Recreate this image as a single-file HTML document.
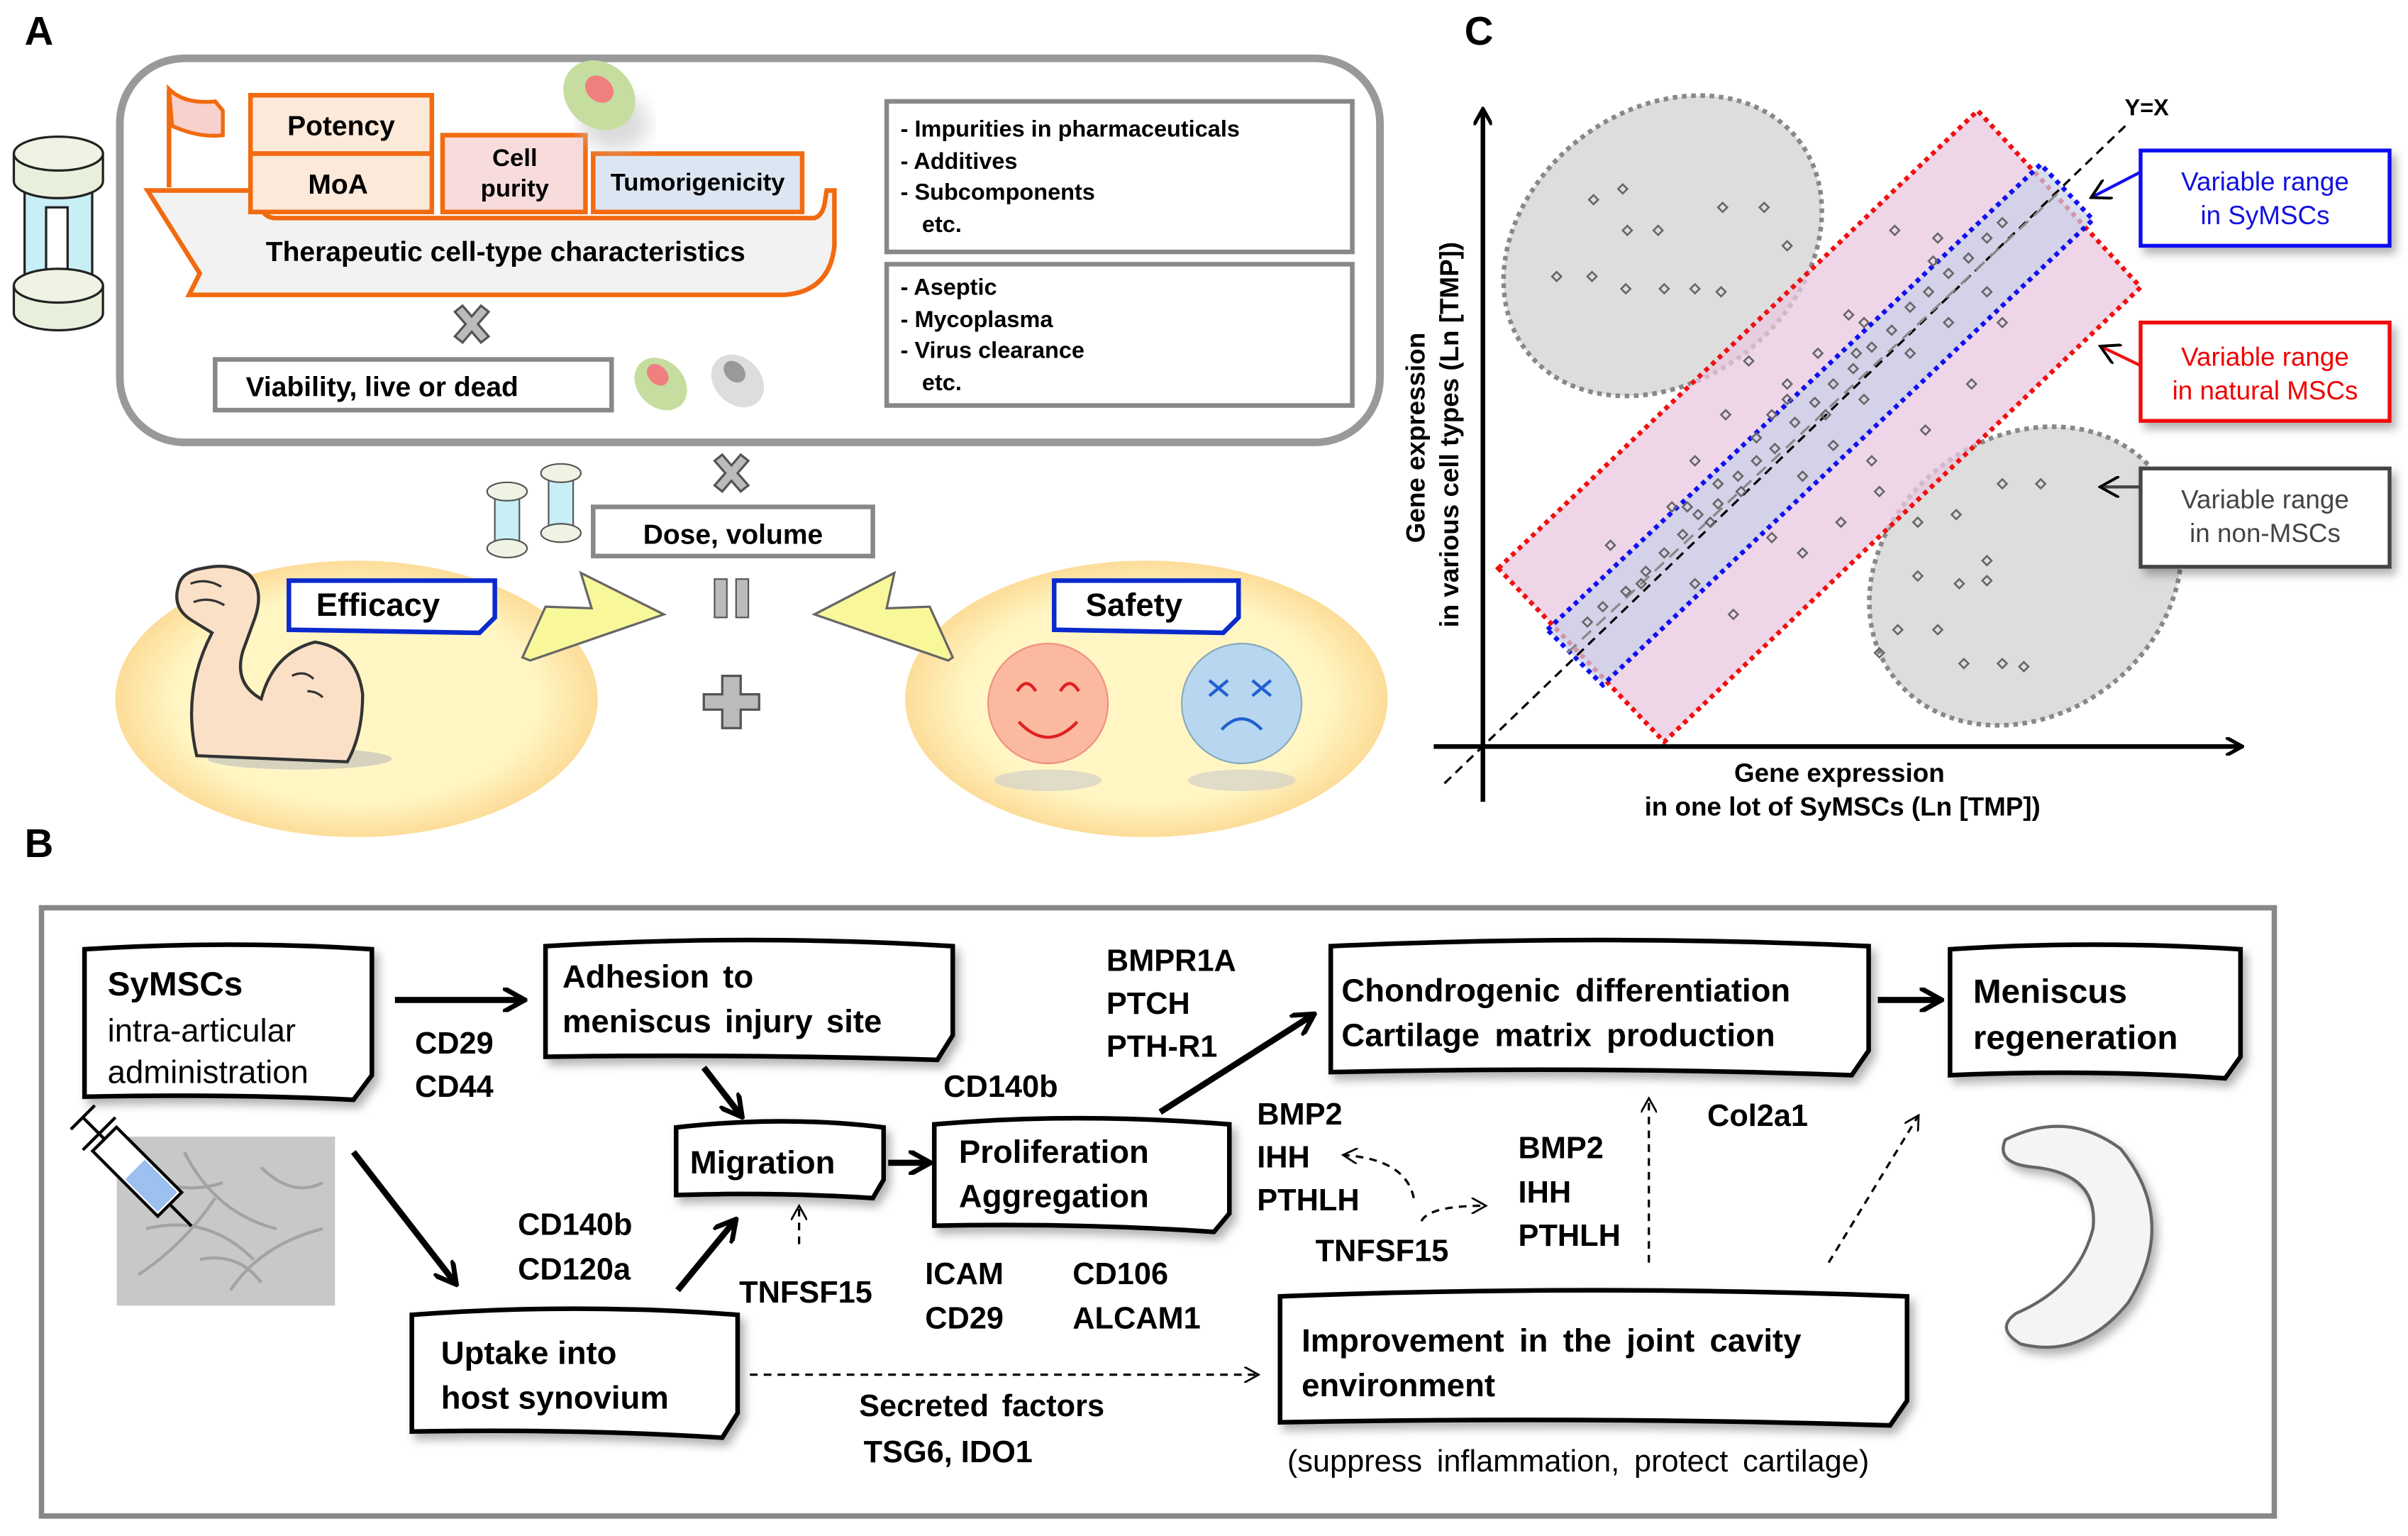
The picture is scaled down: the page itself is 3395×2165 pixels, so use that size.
<!DOCTYPE html>
<html><head><meta charset="utf-8">
<style>
html,body{margin:0;padding:0;background:#fff;}
svg{display:block;}
text{font-family:"Liberation Sans",Arial,sans-serif;}
</style></head>
<body>
<svg width="3395" height="2165" viewBox="0 0 1567 1000" preserveAspectRatio="none" xmlns="http://www.w3.org/2000/svg">
<defs>
<marker id="ab" viewBox="0 0 10 10" refX="8" refY="5" markerWidth="4" markerHeight="4" orient="auto"><path d="M0,0 L9,5 L0,10" fill="none" stroke="#000" stroke-width="2"/></marker>
<marker id="as" viewBox="0 0 10 10" refX="8" refY="5" markerWidth="7" markerHeight="7" orient="auto"><path d="M0,0 L9,5 L0,10" fill="none" stroke="#000" stroke-width="1.2"/></marker>
<marker id="ax" viewBox="0 0 10 10" refX="8" refY="5" markerWidth="7" markerHeight="7" orient="auto"><path d="M0,0 L9,5 L0,10" fill="none" stroke="#000" stroke-width="1.3"/></marker>
<filter id="sh" x="-10%" y="-10%" width="130%" height="140%"><feDropShadow dx="3" dy="4" stdDeviation="3" flood-color="#000" flood-opacity="0.3"/></filter>
<filter id="bl"><feGaussianBlur stdDeviation="6"/></filter>
<radialGradient id="yel" cx="50%" cy="50%" r="50%"><stop offset="75%" stop-color="#fff6c4"/><stop offset="100%" stop-color="#fddc98"/></radialGradient>
</defs>

<!-- ===== Panel A ===== -->
<text x="16" y="29" font-size="26" font-weight="bold">A</text>
<rect x="78" y="38" width="820" height="250" rx="42" fill="#fff" stroke="#999" stroke-width="5"/>
<!-- vial left -->
<g stroke="#222" stroke-width="1.5">
<rect x="16" y="125" width="44" height="70" fill="#c8eef6"/>
<rect x="30" y="135" width="14" height="50" fill="#fff"/>
<path d="M9,100 v18 a29,11 0 0 0 58,0 v-18" fill="#e8f0dc"/>
<ellipse cx="38" cy="100" rx="29" ry="11" fill="#eef3e4"/>
<path d="M9,186 v18 a29,11 0 0 0 58,0 v-18" fill="#e8f0dc"/>
<ellipse cx="38" cy="186" rx="29" ry="11" fill="#eef3e4"/>
</g>
<!-- ship -->
<path d="M110,58 L110,122" stroke="#f26a10" stroke-width="3"/>
<path d="M110,58 Q120,68 140,66 L145,72 L145,88 Q130,90 112,82 Z" fill="#f8d0cc" stroke="#f26a10" stroke-width="2.5"/>
<path d="M96,124 L170,124 L170,135 Q172,142 180,142 L530,142 Q536,140 537,130 L538,124 L543,124 L543,160 Q540,190 510,192 L123,192 L130,178 Z" fill="#f2f2f2" stroke="#f26a10" stroke-width="3"/>
<rect x="163" y="62" width="118" height="38" fill="#fde9d9" stroke="#f26a10" stroke-width="3"/>
<rect x="163" y="100" width="118" height="38" fill="#fde9d9" stroke="#f26a10" stroke-width="3"/>
<rect x="288" y="88" width="93" height="50" fill="#f8dcdc" stroke="#f26a10" stroke-width="3"/>
<rect x="386" y="100" width="136" height="38" fill="#dce6f2" stroke="#f26a10" stroke-width="3"/>
<text x="222" y="88" font-size="18" font-weight="bold" text-anchor="middle">Potency</text>
<text x="220" y="126" font-size="18" font-weight="bold" text-anchor="middle">MoA</text>
<text x="335" y="108" font-size="16" font-weight="bold" text-anchor="middle">Cell</text>
<text x="335" y="128" font-size="16" font-weight="bold" text-anchor="middle">purity</text>
<text x="454" y="124" font-size="16" font-weight="bold" text-anchor="middle">Tumorigenicity</text>
<text x="329" y="170" font-size="18" font-weight="bold" text-anchor="middle">Therapeutic cell-type characteristics</text>
<ellipse cx="400" cy="80" rx="22" ry="18" fill="#ccc" filter="url(#bl)" opacity="0.7"/>
<ellipse cx="390" cy="62" rx="25" ry="21" fill="#c5dea0" transform="rotate(40 390 62)"/>
<ellipse cx="390" cy="58" rx="10" ry="8" fill="#f08080" transform="rotate(40 390 58)"/>
<g fill="#bbb" stroke="#555" stroke-width="1.5">
<path d="M296,203 l5,-4 l6,7 l6,-7 l5,4 l-7,8 l7,8 l-5,4 l-6,-7 l-6,7 l-5,-4 l7,-8 Z"/>
<path d="M465,300 l5,-4 l6,7 l6,-7 l5,4 l-7,8 l7,8 l-5,4 l-6,-7 l-6,7 l-5,-4 l7,-8 Z"/>
</g>
<rect x="140" y="234" width="258" height="33" fill="#fff" stroke="#888" stroke-width="3"/>
<text x="160" y="258" font-size="18" font-weight="bold">Viability, live or dead</text>
<ellipse cx="430" cy="250" rx="19" ry="15" fill="#c5dea0" transform="rotate(45 430 250)"/>
<ellipse cx="428" cy="244" rx="8" ry="6" fill="#f08080" transform="rotate(45 428 244)"/>
<ellipse cx="480" cy="248" rx="19" ry="15" fill="#ddd" transform="rotate(45 480 248)"/>
<ellipse cx="478" cy="242" rx="8" ry="6" fill="#999" transform="rotate(45 478 242)"/>
<rect x="577" y="66" width="303" height="98" fill="#fff" stroke="#888" stroke-width="3"/>
<text font-size="15" font-weight="bold"><tspan x="586" y="89">- Impurities in  pharmaceuticals</tspan><tspan x="586" y="110">- Additives</tspan><tspan x="586" y="130">- Subcomponents</tspan><tspan x="600" y="151">etc.</tspan></text>
<rect x="577" y="172" width="303" height="92" fill="#fff" stroke="#888" stroke-width="3"/>
<text font-size="15" font-weight="bold"><tspan x="586" y="192">- Aseptic</tspan><tspan x="586" y="213">- Mycoplasma</tspan><tspan x="586" y="233">- Virus clearance</tspan><tspan x="600" y="254">etc.</tspan></text>
<g stroke="#555" stroke-width="1">
<rect x="322" y="322" width="16" height="34" fill="#c8eef6"/><ellipse cx="330" cy="320" rx="13" ry="6" fill="#eef3e4"/><ellipse cx="330" cy="357" rx="13" ry="6" fill="#eef3e4"/>
<rect x="357" y="310" width="16" height="36" fill="#c8eef6"/><ellipse cx="365" cy="308" rx="13" ry="6" fill="#eef3e4"/><ellipse cx="365" cy="347" rx="13" ry="6" fill="#eef3e4"/>
</g>
<rect x="386" y="330" width="182" height="32" fill="#fff" stroke="#888" stroke-width="3"/>
<text x="477" y="354" font-size="18" font-weight="bold" text-anchor="middle">Dose, volume</text>
<ellipse cx="232" cy="455" rx="157" ry="90" fill="url(#yel)"/>
<ellipse cx="746" cy="455" rx="157" ry="90" fill="url(#yel)"/>
<path d="M340,428 L355,395 L385,396 L378,373 L432,400 L345,430 Z" fill="#f8f89a" stroke="#666" stroke-width="1.5"/>
<path d="M620,428 L605,395 L577,396 L582,373 L530,400 L617,430 Z" fill="#f8f89a" stroke="#666" stroke-width="1.5"/>
<rect x="465" y="377" width="8" height="25" fill="#bbb" stroke="#555"/><rect x="479" y="377" width="8" height="25" fill="#bbb" stroke="#555"/>
<path d="M470,440 h12 v12 h12 v10 h-12 v12 h-12 v-12 h-12 v-10 h12 Z" fill="#bbb" stroke="#555" stroke-width="1.5"/>
<path d="M188,378 L322,378 L322,402 L312,412 L188,410 Z" fill="#fff" stroke="#0a2acc" stroke-width="3"/>
<text x="246" y="401" font-size="21" font-weight="bold" text-anchor="middle">Efficacy</text>
<path d="M686,378 L806,378 L806,402 L796,412 L686,410 Z" fill="#fff" stroke="#0a2acc" stroke-width="3"/>
<text x="738" y="401" font-size="21" font-weight="bold" text-anchor="middle">Safety</text>
<!-- arm -->
<ellipse cx="195" cy="494" rx="60" ry="7" fill="#bbb" opacity="0.6"/>
<path d="M128,492 Q118,450 138,412 L125,404 Q112,396 116,382 Q118,372 132,370 Q150,366 162,374 Q172,384 166,402 L158,424 Q152,445 170,455 Q178,425 205,418 Q232,422 236,452 Q236,478 226,496 Z" fill="#fbe0c8" stroke="#333" stroke-width="2"/>
<path d="M124,380 q10,-4 20,2 M126,392 q10,-4 20,2 M190,440 q8,-4 14,2 M200,450 q6,0 10,4" fill="none" stroke="#333" stroke-width="1.5"/>
<ellipse cx="682" cy="508" rx="35" ry="7" fill="#ccc" opacity="0.6"/>
<ellipse cx="808" cy="508" rx="35" ry="7" fill="#ccc" opacity="0.6"/>
<circle cx="682" cy="458" r="39" fill="#fbb9a0" stroke="#f09080"/>
<path d="M662,450 q6,-10 12,0 M690,450 q6,-10 12,0 M663,470 q19,20 38,0" fill="none" stroke="#e02020" stroke-width="2"/>
<circle cx="808" cy="458" r="39" fill="#b8d6f0" stroke="#8ab"/>
<path d="M787,443 l12,10 M799,443 l-12,10 M815,443 l12,10 M827,443 l-12,10 M795,475 q13,-14 26,0" fill="none" stroke="#2060d0" stroke-width="2"/>

<!-- ===== Panel C ===== -->
<text x="953" y="29" font-size="26" font-weight="bold">C</text>
<ellipse cx="1082" cy="160" rx="112" ry="88" fill="#ddd" stroke="#888" stroke-width="3" stroke-dasharray="3,3" transform="rotate(-38 1082 160)"/>
<ellipse cx="1318" cy="375" rx="108" ry="90" fill="#ddd" stroke="#888" stroke-width="3" stroke-dasharray="3,3" transform="rotate(-38 1318 375)"/>
<polygon points="975,370 1287,72 1393,187 1083,483" fill="#e8c8e0" fill-opacity="0.75" stroke="#f01010" stroke-width="3" stroke-dasharray="3,3"/>
<polygon points="1007,410 1328,107 1362,143 1043,446" fill="#c8d0e8" fill-opacity="0.7" stroke="#1010f0" stroke-width="3" stroke-dasharray="3,3"/>
<line x1="940" y1="510" x2="1383" y2="82" stroke="#000" stroke-width="1.5" stroke-dasharray="6,4"/>
<line x1="1020" y1="425" x2="1340" y2="125" stroke="#888" stroke-width="1.5" stroke-dasharray="8,5"/>
<g fill="none" stroke="#666" stroke-width="1.2">
<path d="M1034,130 l3,-3 l3,3 l-3,3 Z M1056,150 l3,-3 l3,3 l-3,3 Z M1076,150 l3,-3 l3,3 l-3,3 Z M1053,123 l3,-3 l3,3 l-3,3 Z M1010,180 l3,-3 l3,3 l-3,3 Z M1033,180 l3,-3 l3,3 l-3,3 Z M1055,188 l3,-3 l3,3 l-3,3 Z M1080,188 l3,-3 l3,3 l-3,3 Z M1100,188 l3,-3 l3,3 l-3,3 Z M1117,190 l3,-3 l3,3 l-3,3 Z M1145,135 l3,-3 l3,3 l-3,3 Z M1160,160 l3,-3 l3,3 l-3,3 Z M1118,135 l3,-3 l3,3 l-3,3 Z"/>
<path d="M1300,315 l3,-3 l3,3 l-3,3 Z M1325,315 l3,-3 l3,3 l-3,3 Z M1245,340 l3,-3 l3,3 l-3,3 Z M1270,335 l3,-3 l3,3 l-3,3 Z M1290,365 l3,-3 l3,3 l-3,3 Z M1272,380 l3,-3 l3,3 l-3,3 Z M1245,375 l3,-3 l3,3 l-3,3 Z M1232,410 l3,-3 l3,3 l-3,3 Z M1258,410 l3,-3 l3,3 l-3,3 Z M1290,378 l3,-3 l3,3 l-3,3 Z M1275,432 l3,-3 l3,3 l-3,3 Z M1300,432 l3,-3 l3,3 l-3,3 Z M1314,434 l3,-3 l3,3 l-3,3 Z M1220,425 l3,-3 l3,3 l-3,3 Z"/>
<path d="M1045,355 l3,-3 l3,3 l-3,3 Z M1065,380 l3,-3 l3,3 l-3,3 Z M1085,330 l3,-3 l3,3 l-3,3 Z M1100,300 l3,-3 l3,3 l-3,3 Z M1110,340 l3,-3 l3,3 l-3,3 Z M1120,270 l3,-3 l3,3 l-3,3 Z M1130,320 l3,-3 l3,3 l-3,3 Z M1140,285 l3,-3 l3,3 l-3,3 Z M1150,350 l3,-3 l3,3 l-3,3 Z M1160,250 l3,-3 l3,3 l-3,3 Z M1170,310 l3,-3 l3,3 l-3,3 Z M1180,230 l3,-3 l3,3 l-3,3 Z M1190,290 l3,-3 l3,3 l-3,3 Z M1200,205 l3,-3 l3,3 l-3,3 Z M1210,260 l3,-3 l3,3 l-3,3 Z M1220,320 l3,-3 l3,3 l-3,3 Z M1230,150 l3,-3 l3,3 l-3,3 Z M1240,230 l3,-3 l3,3 l-3,3 Z M1250,280 l3,-3 l3,3 l-3,3 Z M1258,155 l3,-3 l3,3 l-3,3 Z M1265,210 l3,-3 l3,3 l-3,3 Z M1280,250 l3,-3 l3,3 l-3,3 Z M1290,190 l3,-3 l3,3 l-3,3 Z M1300,210 l3,-3 l3,3 l-3,3 Z M1100,380 l3,-3 l3,3 l-3,3 Z M1125,400 l3,-3 l3,3 l-3,3 Z M1170,360 l3,-3 l3,3 l-3,3 Z M1195,340 l3,-3 l3,3 l-3,3 Z M1215,300 l3,-3 l3,3 l-3,3 Z M1135,235 l3,-3 l3,3 l-3,3 Z M1150,270 l3,-3 l3,3 l-3,3 Z M1115,315 l3,-3 l3,3 l-3,3 Z M1205,230 l3,-3 l3,3 l-3,3 Z M1185,270 l3,-3 l3,3 l-3,3 Z"/>
<path d="M1030,405 l3,-3 l3,3 l-3,3 Z M1040,395 l3,-3 l3,3 l-3,3 Z M1055,385 l3,-3 l3,3 l-3,3 Z M1068,372 l3,-3 l3,3 l-3,3 Z M1080,360 l3,-3 l3,3 l-3,3 Z M1092,348 l3,-3 l3,3 l-3,3 Z M1102,335 l3,-3 l3,3 l-3,3 Z M1115,328 l3,-3 l3,3 l-3,3 Z M1128,310 l3,-3 l3,3 l-3,3 Z M1140,300 l3,-3 l3,3 l-3,3 Z M1152,292 l3,-3 l3,3 l-3,3 Z M1165,275 l3,-3 l3,3 l-3,3 Z M1178,262 l3,-3 l3,3 l-3,3 Z M1190,250 l3,-3 l3,3 l-3,3 Z M1203,240 l3,-3 l3,3 l-3,3 Z M1215,226 l3,-3 l3,3 l-3,3 Z M1228,215 l3,-3 l3,3 l-3,3 Z M1240,200 l3,-3 l3,3 l-3,3 Z M1252,190 l3,-3 l3,3 l-3,3 Z M1265,178 l3,-3 l3,3 l-3,3 Z M1278,168 l3,-3 l3,3 l-3,3 Z M1290,155 l3,-3 l3,3 l-3,3 Z M1300,145 l3,-3 l3,3 l-3,3 Z M1255,170 l3,-3 l3,3 l-3,3 Z M1160,260 l3,-3 l3,3 l-3,3 Z M1095,330 l3,-3 l3,3 l-3,3 Z M1210,210 l3,-3 l3,3 l-3,3 Z"/>
</g>
<line x1="965" y1="522" x2="965" y2="72" stroke="#000" stroke-width="3" marker-end="url(#ab)"/>
<line x1="933" y1="486" x2="1458" y2="486" stroke="#000" stroke-width="3" marker-end="url(#ab)"/>
<text x="1397" y="75" font-size="15" font-weight="bold" text-anchor="middle">Y=X</text>
<text x="1197" y="509" font-size="17" font-weight="bold" text-anchor="middle">Gene expression</text>
<text x="1199" y="531" font-size="17" font-weight="bold" text-anchor="middle">in one lot of SyMSCs (Ln [TMP])</text>
<text transform="translate(927,285) rotate(-90)" font-size="17" font-weight="bold" text-anchor="middle">Gene expression</text>
<text transform="translate(949,283) rotate(-90)" font-size="17" font-weight="bold" text-anchor="middle">in various cell types (Ln [TMP])</text>
<rect x="1393" y="98" width="162" height="62" fill="#fff" stroke="#1010f0" stroke-width="2.5" filter="url(#sh)"/>
<text x="1474" y="124" font-size="17" fill="#1010e0" text-anchor="middle">Variable range</text>
<text x="1474" y="146" font-size="17" fill="#1010e0" text-anchor="middle">in SyMSCs</text>
<line x1="1393" y1="112" x2="1362" y2="128" stroke="#1010f0" stroke-width="2" marker-end="url(#ax)"/>
<rect x="1393" y="210" width="162" height="64" fill="#fff" stroke="#f01010" stroke-width="2.5" filter="url(#sh)"/>
<text x="1474" y="238" font-size="17" fill="#f00000" text-anchor="middle">Variable range</text>
<text x="1474" y="260" font-size="17" fill="#f00000" text-anchor="middle">in natural MSCs</text>
<line x1="1393" y1="238" x2="1368" y2="226" stroke="#f01010" stroke-width="2" marker-end="url(#ax)"/>
<rect x="1393" y="305" width="162" height="64" fill="#fff" stroke="#444" stroke-width="2.5" filter="url(#sh)"/>
<text x="1474" y="331" font-size="17" fill="#444" text-anchor="middle">Variable range</text>
<text x="1474" y="353" font-size="17" fill="#444" text-anchor="middle">in non-MSCs</text>
<line x1="1393" y1="317" x2="1368" y2="317" stroke="#444" stroke-width="2" marker-end="url(#ax)"/>

<!-- ===== Panel B ===== -->
<text x="16" y="558" font-size="26" font-weight="bold">B</text>
<rect x="27" y="591" width="1453" height="396" fill="#fff" stroke="#888" stroke-width="3.5"/>
<g fill="#fff" stroke="#000" stroke-width="3" filter="url(#sh)">
<path d="M55,618 Q150,612 242,618 L242,700 L230,716 Q150,712 55,714 Z"/>
<path d="M355,616 Q490,608 620,616 L620,674 L610,690 Q480,686 355,688 Z"/>
<path d="M440,734 Q510,726 575,734 L575,768 L568,780 Q505,776 440,778 Z"/>
<path d="M608,732 Q700,724 800,732 L800,790 L790,802 Q700,796 608,798 Z"/>
<path d="M866,616 Q1040,608 1216,616 L1216,684 L1205,700 Q1040,694 866,698 Z"/>
<path d="M1269,618 Q1362,612 1458,618 L1458,688 L1448,702 Q1362,696 1269,700 Z"/>
<path d="M268,856 Q375,848 480,856 L480,920 L470,936 Q375,930 268,932 Z"/>
<path d="M833,844 Q1037,836 1241,844 L1241,912 L1230,928 Q1037,922 833,926 Z"/>
</g>
<text font-size="22" font-weight="bold"><tspan x="70" y="648">SyMSCs</tspan></text>
<text font-size="21"><tspan x="70" y="678">intra-articular</tspan><tspan x="70" y="705">administration</tspan></text>
<text font-size="21" font-weight="bold" word-spacing="3"><tspan x="366" y="643">Adhesion to</tspan><tspan x="366" y="672">meniscus  injury  site</tspan></text>
<text x="449" y="764" font-size="21" font-weight="bold">Migration</text>
<text font-size="21" font-weight="bold"><tspan x="624" y="757">Proliferation</tspan><tspan x="624" y="786">Aggregation</tspan></text>
<text font-size="21" font-weight="bold" word-spacing="4"><tspan x="873" y="652">Chondrogenic  differentiation</tspan><tspan x="873" y="681">Cartilage  matrix  production</tspan></text>
<text font-size="22" font-weight="bold"><tspan x="1284" y="653">Meniscus</tspan><tspan x="1284" y="683">regeneration</tspan></text>
<text font-size="21" font-weight="bold"><tspan x="287" y="888">Uptake into</tspan><tspan x="287" y="917">host synovium</tspan></text>
<text font-size="21" font-weight="bold" word-spacing="4"><tspan x="847" y="880">Improvement  in the  joint  cavity</tspan><tspan x="847" y="909">environment</tspan></text>
<text x="1027" y="958" font-size="20" text-anchor="middle" word-spacing="4">(suppress  inflammation,  protect  cartilage)</text>
<g font-size="20" font-weight="bold">
<text x="270" y="686">CD29</text><text x="270" y="714">CD44</text>
<text x="720" y="632">BMPR1A</text><text x="720" y="660">PTCH</text><text x="720" y="688">PTH-R1</text>
<text x="614" y="714">CD140b</text>
<text x="337" y="804">CD140b</text><text x="337" y="833">CD120a</text>
<text x="481" y="848">TNFSF15</text>
<text x="602" y="836">ICAM</text><text x="602" y="865">CD29</text>
<text x="698" y="836">CD106</text><text x="698" y="865">ALCAM1</text>
<text x="818" y="732">BMP2</text><text x="818" y="760">IHH</text><text x="818" y="788">PTHLH</text>
<text x="856" y="821">TNFSF15</text>
<text x="988" y="754">BMP2</text><text x="988" y="783">IHH</text><text x="988" y="811">PTHLH</text>
<text x="1111" y="733">Col2a1</text>
<text x="559" y="922" word-spacing="3">Secreted factors</text>
<text x="562" y="952">TSG6, IDO1</text>
</g>
<g stroke="#000" stroke-width="4" fill="none" marker-end="url(#ab)">
<line x1="257" y1="651" x2="340" y2="651"/>
<line x1="458" y1="695" x2="482" y2="726"/>
<line x1="230" y1="750" x2="296" y2="835"/>
<line x1="441" y1="840" x2="478" y2="795"/>
<line x1="578" y1="757" x2="604" y2="757"/>
<line x1="755" y1="724" x2="854" y2="661"/>
<line x1="1222" y1="651" x2="1262" y2="651"/>
</g>
<g stroke="#000" stroke-width="1.5" fill="none" stroke-dasharray="5,4" marker-end="url(#as)">
<line x1="520" y1="810" x2="520" y2="786"/>
<line x1="488" y1="895" x2="818" y2="895"/>
<line x1="1073" y1="822" x2="1073" y2="716"/>
<line x1="1190" y1="822" x2="1248" y2="727"/>
<path d="M920,780 Q915,755 875,752"/>
<path d="M925,795 Q930,785 966,785"/>
</g>
<rect x="76" y="740" width="142" height="110" fill="#c8c8c8"/>
<g stroke="#9a9a9a" stroke-width="2" fill="none" opacity="0.8">
<path d="M85,760 q30,20 60,10 M95,800 q40,-10 70,20 M120,750 q20,40 60,50 M150,840 q20,-30 60,-40 M90,830 q30,-20 50,-50 M170,760 q20,20 40,10 M130,820 q25,-5 40,15"/>
</g>
<g transform="rotate(45 85 760)">
<rect x="60" y="748" width="60" height="22" fill="#fff" stroke="#000" stroke-width="2"/>
<rect x="88" y="750" width="30" height="18" fill="#9cc0f0"/>
<line x1="120" y1="759" x2="140" y2="759" stroke="#000" stroke-width="2"/>
<line x1="40" y1="759" x2="60" y2="759" stroke="#000" stroke-width="2"/>
<line x1="40" y1="748" x2="40" y2="770" stroke="#000" stroke-width="2"/>
<line x1="55" y1="744" x2="55" y2="774" stroke="#000" stroke-width="2"/>
</g>
<!-- meniscus -->
<path d="M1305,742 Q1345,722 1380,748 Q1418,795 1385,848 Q1355,885 1315,875 Q1298,865 1312,855 Q1352,838 1362,800 Q1366,765 1325,760 Q1298,758 1305,742 Z" fill="#f4f4f4" stroke="#666" stroke-width="2" filter="url(#sh)"/>
</svg>
</body></html>
